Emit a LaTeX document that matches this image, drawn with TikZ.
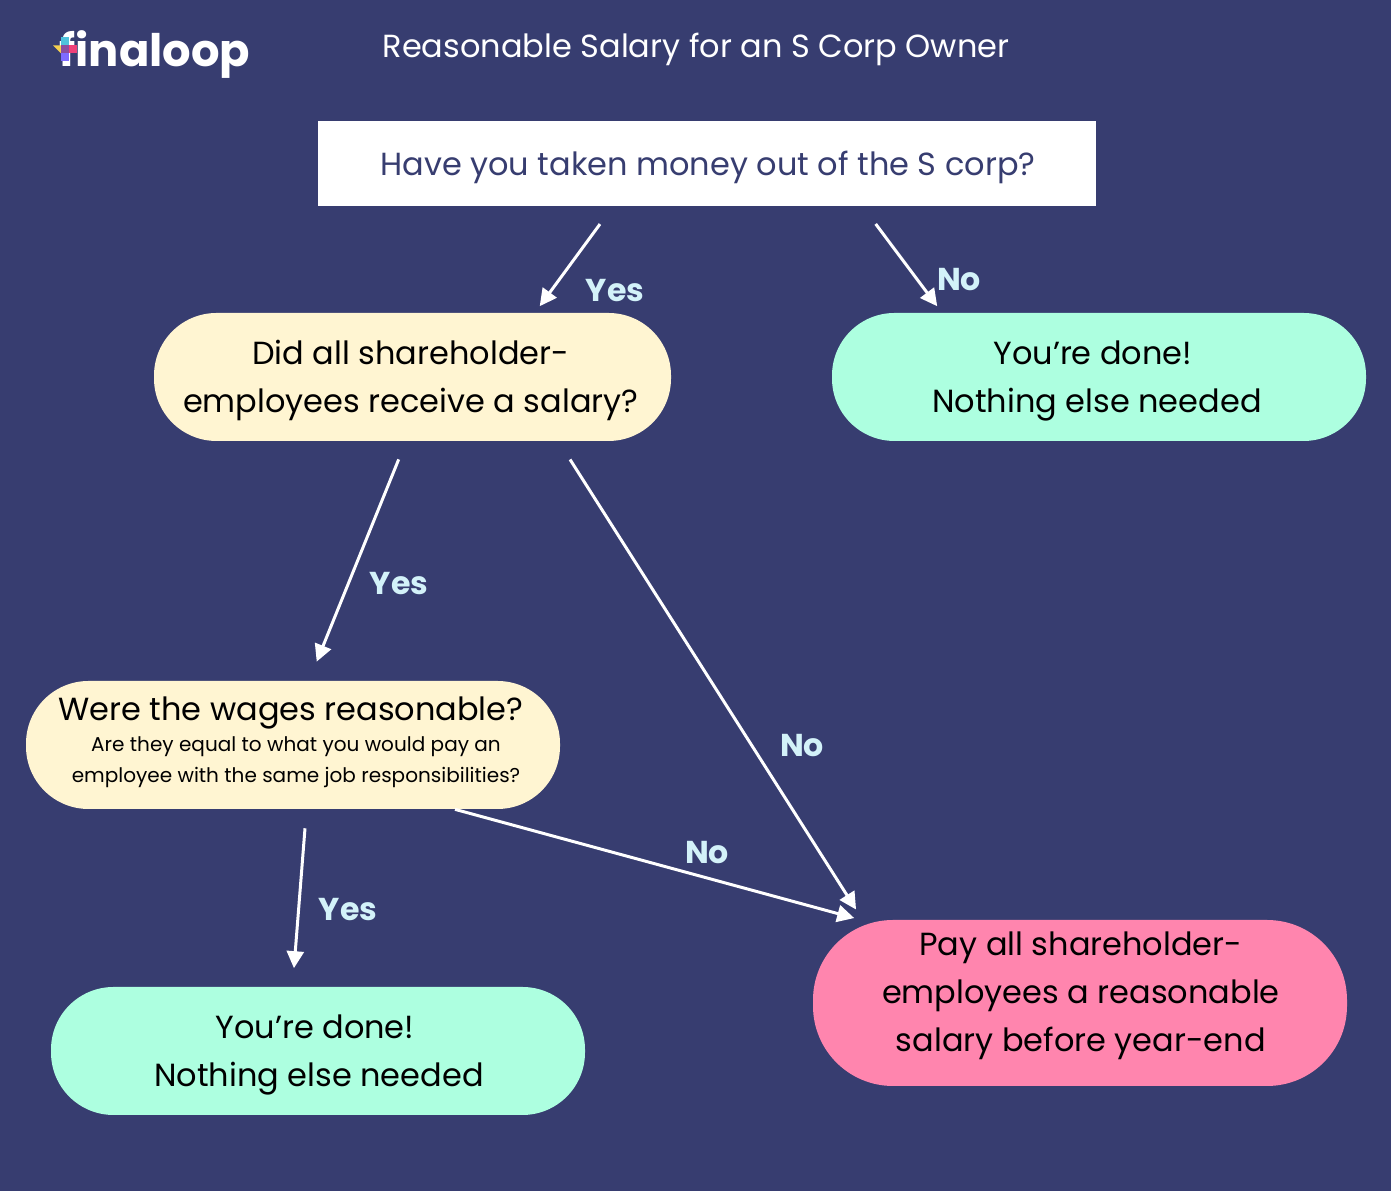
\documentclass[tikz,border=0pt]{standalone}
\usepackage{fontspec}
\setmainfont{Poppins}
\usepackage{tikz}
\usetikzlibrary{arrows.meta,positioning,calc}
\definecolor{bgNavy}{HTML}{373D70}
\definecolor{boxCream}{HTML}{FFF5D2}
\definecolor{boxMint}{HTML}{ADFFE0}
\definecolor{boxPink}{HTML}{FF85AE}
\definecolor{lblBlue}{HTML}{D3F2F9}
\definecolor{logoCyan}{HTML}{4FC3DC}
\definecolor{logoPurple}{HTML}{8A4FA0}
\definecolor{logoPink}{HTML}{EF4078}
\definecolor{logoYellow}{HTML}{F5D04F}
\definecolor{logoViolet}{HTML}{7F6BFF}
\newcommand{\smalltxt}{\fontsize{11.4}{17}\selectfont}
\newcommand{\toprule}[1]{\rule{0pt}{#1}}
\newcommand{\botrule}[1]{\rule[-#1]{0pt}{#1}}

\begin{document}
\begin{tikzpicture}[
                font=\fontsize{18.2}{27.3}\selectfont,
                pill/.style={rounded corners=1.25cm, inner sep=0pt, minimum width=10.68cm, minimum height=2.56cm, align=center, text=black},
                arr/.style={white, line width=1.7pt, -{Triangle[length=3.4mm, width=3.4mm]}},
                lbl/.style={font=\fontsize{18}{21}\selectfont\bfseries, text=lblBlue},
            ]
            % --- background ---
            \fill[bgNavy] (0,0) rectangle (27.82,23.82);
            % --- logo and title ---
            \node[text=white, font=\fontsize{25.5}{30}\selectfont\bfseries, inner sep=0pt] (logo) at (3.10, 22.72) {finaloop};
            \fill[logoYellow] (1.06,22.91) -- (1.22,22.91) -- (1.22,22.75) -- cycle;
            \fill[logoCyan] (1.22,23.07) rectangle (1.38,22.91);
            \fill[logoPurple] (1.22,22.91) rectangle (1.38,22.75);
            \fill[logoPink] (1.38,22.91) rectangle (1.54,22.75);
            \fill[logoViolet] (1.22,22.75) rectangle (1.38,22.59);
            \node[text=white, font=\fontsize{18.2}{22}\selectfont] (title) at (13.92, 22.84) {Reasonable Salary for an S Corp Owner};
            % --- boxes ---
            \node[fill=white, text=bgNavy, minimum width=15.56cm, minimum height=1.70cm, inner sep=0pt, text height=17pt, text depth=3pt] (q0) at (14.14, 20.55) {\hspace{1pt}Have you taken money out of the S corp?};
            \node[pill, fill=boxCream, minimum width=10.34cm] (q1) at (8.25, 16.28) {\toprule{18pt}\hspace{-2pt}Did all shareholder-\\\hspace{-2pt}employees receive a salary?};
            \node[pill, fill=boxMint] (done1) at (21.98, 16.28) {\toprule{18pt}\hspace{-7pt}You’re done!\\\hspace{-2.4pt}Nothing else needed};
            \node[pill, fill=boxCream] (q2) at (5.86, 8.92) {\hspace{-2.4pt}Were the wages reasonable?\\[-10.2pt]\smalltxt\hspace{3.4pt}Are they equal to what you would pay an\\[-9.6pt]\smalltxt\hspace{3.4pt}employee with the same job responsibilities?\botrule{6pt}};
            \node[pill, fill=boxMint] (done2) at (6.36, 2.80) {\toprule{18pt}\hspace{-3.5pt}You’re done!\\\hspace{1pt}Nothing else needed};
            \node[pill, fill=boxPink, rounded corners=1.6cm, minimum height=3.32cm] (pay) at (21.6, 3.76) {\hspace{1pt}Pay all shareholder-\\\hspace{1pt}employees a reasonable\\\hspace{1pt}salary before year-end\botrule{13pt}};
            % --- connectors ---
            \draw[arr, shorten <=4.4mm, shorten >=1.6mm] ($(q0.south)+(-1.88,0)$) -- ($(q1.north)+(2.45,0)$);
            \draw[arr, shorten <=4.4mm, shorten >=1.6mm] ($(q0.south)+(3.11,0)$) -- ($(done1.north)+(-3.14,0)$);
            \draw[arr, shorten <=3.9mm, shorten >=4.1mm] ($(q1.south)+(-0.13,0)$) -- ($(q2.north)+(0.32,0)$);
            \draw[arr, shorten <=4.3mm, shorten >=2.4mm] ($(q1.south)+(2.92,0)$) -- ($(pay.north)+(-4.35,0)$);
            \draw[arr, shorten >=1.2mm] ($(q2.south)+(3.24,0)$) -- ($(pay.north)+(-4.4,0)$);
            \draw[arr, shorten <=3.8mm, shorten >=3.7mm] ($(q2.south)+(0.27,0)$) -- ($(done2.north)+(-0.51,0)$);
            % --- labels ---
            \node[lbl] (yes1) at (12.30, 18.00) {Yes};
            \node[lbl] (no1) at (19.18, 18.22) {No};
            \node[lbl] (yes2) at (7.98, 12.14) {Yes};
            \node[lbl] (no2) at (16.04, 8.90) {No};
            \node[lbl] (no3) at (14.14, 6.76) {No};
            \node[lbl] (yes3) at (6.96, 5.62) {Yes};
        \end{tikzpicture}
\end{document}
